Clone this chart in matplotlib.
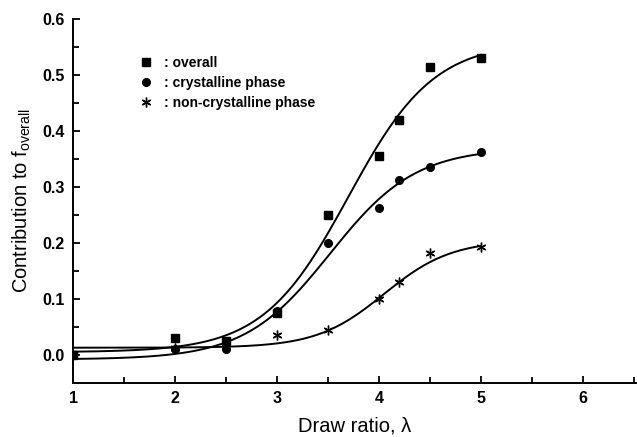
import numpy as np
import matplotlib
matplotlib.use("Agg")
import matplotlib.pyplot as plt
from matplotlib.ticker import MultipleLocator

plt.rcParams['font.family'] = ['Liberation Sans', 'DejaVu Sans']

draw_ratio = [1, 2, 2.5, 3, 3.5, 4, 4.2, 4.5, 5]
overall = [0.0, 0.030, 0.025, 0.075, 0.250, 0.355, 0.420, 0.515, 0.530]
crystalline = [0.0, 0.010, 0.010, 0.078, 0.200, 0.262, 0.313, 0.335, 0.363]
non_crystalline = [0.0, 0.012, 0.015, 0.035, 0.045, 0.100, 0.130, 0.182, 0.193]

# Boltzmann fit parameters: A1, A2, x0, dx
fit_overall = [0.005, 0.560, 3.70, 0.42]
fit_crystalline = [-0.008, 0.370, 3.52, 0.42]
fit_non_crystalline = [0.013, 0.205, 4.05, 0.33]


def boltzmann(x, p):
    a1, a2, x0, dx = p
    return a2 + (a1 - a2) / (1 + np.exp((x - x0) / dx))


fig = plt.figure(figsize=(6.37, 4.37), dpi=100)
ax = fig.add_axes([0.1146, 0.1236, 0.8854, 0.8329])

xs = np.linspace(1, 5, 200)
for p in (fit_overall, fit_crystalline, fit_non_crystalline):
    ax.plot(xs, boltzmann(xs, p), color='black', lw=1.4)

ax.plot(draw_ratio, overall, 's', color='black', ms=5.5, label=': overall')
ax.plot(draw_ratio, crystalline, 'o', color='black', ms=5.5, label=': crystalline phase')
ax.plot(draw_ratio, non_crystalline, linestyle='none', marker=(6, 2, 0), color='black',
        ms=7, mew=1.0, label=': non-crystalline phase')

ax.set_xlim(1, 6.53)
ax.set_ylim(-0.05, 0.6)
ax.xaxis.set_major_locator(MultipleLocator(1))
ax.xaxis.set_minor_locator(MultipleLocator(0.5))
ax.yaxis.set_major_locator(MultipleLocator(0.1))
ax.yaxis.set_minor_locator(MultipleLocator(0.05))
ax.yaxis.set_major_formatter(plt.FormatStrFormatter('%.1f'))

for side in ('top', 'right'):
    ax.spines[side].set_visible(False)
for side in ('left', 'bottom'):
    ax.spines[side].set_linewidth(1.4)

ax.tick_params(which='major', direction='in', length=5, width=1.3,
               labelsize=11.5, pad=6)
ax.tick_params(which='minor', direction='in', length=4, width=1.3)
for lab in ax.get_xticklabels() + ax.get_yticklabels():
    lab.set_fontweight('bold')

ax.set_xlabel('Draw ratio, \u03bb', fontsize=14.5, labelpad=7)
ax.set_ylabel('Contribution to f$_{\\mathregular{overall}}$', fontsize=14.5, labelpad=7)

ax.legend(loc='upper left', bbox_to_anchor=(0.107, 0.915), frameon=False,
          prop={'weight': 'bold', 'size': 10}, handlelength=1.0,
          handletextpad=0.8, labelspacing=0.45, borderaxespad=0)

fig.savefig('out.png', dpi=100)
